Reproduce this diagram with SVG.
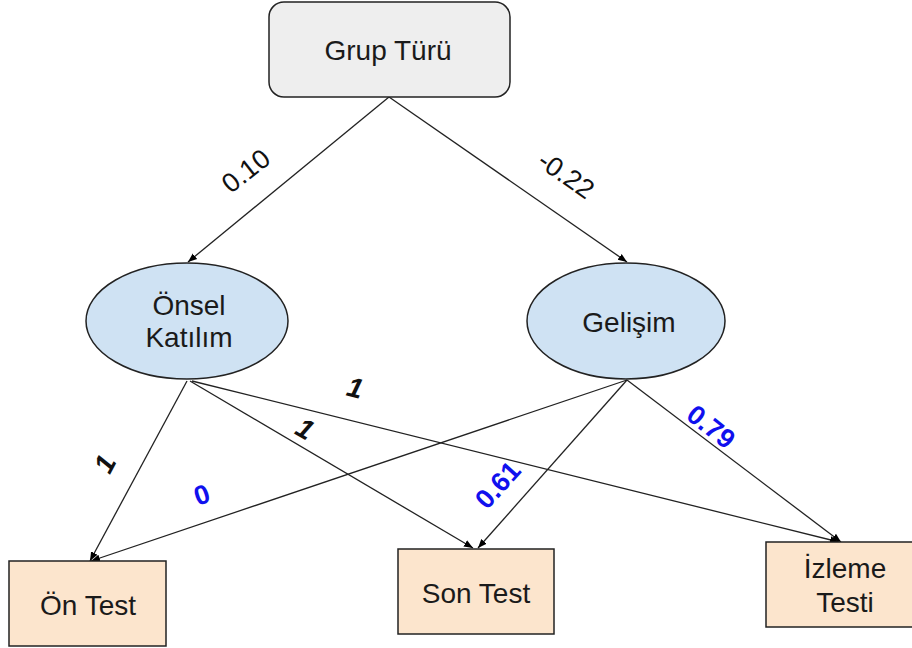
<svg xmlns="http://www.w3.org/2000/svg" width="912" height="648" viewBox="0 0 912 648">
<defs>
<marker id="ah" viewBox="0 0 10 10" refX="10" refY="5" markerWidth="9" markerHeight="9" markerUnits="userSpaceOnUse" orient="auto">
<path d="M0,1 L10,5 L0,9 Z" fill="#000"/>
</marker>
<style>
.t{font-family:"Liberation Sans",Arial,sans-serif;font-size:28px;fill:#1a1a1a;text-anchor:middle;dominant-baseline:central}
.c{stroke:#222;stroke-width:1.3;fill:none;marker-end:url(#ah)}
.lb{font-family:"Liberation Sans",Arial,sans-serif;font-size:27px;fill:#111;text-anchor:middle;dominant-baseline:central}
.b1{font-family:"Liberation Sans",Arial,sans-serif;font-size:28px;font-weight:bold;font-style:italic;fill:#111;text-anchor:middle;dominant-baseline:central}
.bb{font-family:"Liberation Sans",Arial,sans-serif;font-size:27px;font-weight:bold;fill:#1010ee;text-anchor:middle;dominant-baseline:central}
.el{fill:#cfe2f3;stroke:#222;stroke-width:1.5}
.bx{fill:#fce5cd;stroke:#222;stroke-width:1.5}
</style>
</defs>
<rect width="912" height="648" fill="#fff"/>
<g id="connectors">
<line class="c" x1="389" y1="97" x2="188" y2="262"/>
<line class="c" x1="389" y1="97" x2="627" y2="262"/>
<line class="c" x1="187" y1="381" x2="90" y2="561"/>
<line class="c" x1="190" y1="381" x2="473" y2="548"/>
<line class="c" x1="192" y1="381" x2="839" y2="542"/>
<line class="c" x1="627" y1="380" x2="91" y2="561"/>
<line class="c" x1="627" y1="380" x2="478" y2="548"/>
<line class="c" x1="627" y1="380" x2="841" y2="542"/>
<text class="lb" transform="translate(246,171) rotate(-38)">0.10</text>
<text class="lb" transform="translate(566,175) rotate(35)">-0.22</text>
<text class="b1" transform="translate(355,388) rotate(14)">1</text>
<text class="b1" transform="translate(305,429) rotate(30)">1</text>
<text class="b1" transform="translate(105,464) rotate(-62)">1</text>
<text class="bb" transform="translate(202,495) rotate(-19)">0</text>
<text class="bb" transform="translate(498,485) rotate(-48)">0.61</text>
<text class="bb" transform="translate(711,427) rotate(38)">0.79</text>
</g>
<g id="grup">
<rect x="269" y="2" width="241" height="95" rx="15" fill="#eeeeee" stroke="#222" stroke-width="1.5"/>
<text class="t" x="388" y="50">Grup Türü</text>
</g>
<g id="onsel">
<ellipse class="el" cx="187" cy="321" rx="101" ry="58"/>
<text class="t" x="189" y="305">Önsel</text>
<text class="t" x="189" y="337">Katılım</text>
</g>
<g id="gelisim">
<ellipse class="el" cx="626" cy="321" rx="99" ry="58"/>
<text class="t" x="629" y="322">Gelişim</text>
</g>
<g id="ontest">
<rect class="bx" x="9" y="561" width="157" height="85"/>
<text class="t" x="88" y="605">Ön Test</text>
</g>
<g id="sontest">
<rect class="bx" x="398" y="549" width="156" height="85"/>
<text class="t" x="476" y="593">Son Test</text>
</g>
<g id="izleme">
<rect class="bx" x="766" y="542" width="158" height="85"/>
<text class="t" x="845" y="568">İzleme</text>
<text class="t" x="845" y="602">Testi</text>
</g>
</svg>
